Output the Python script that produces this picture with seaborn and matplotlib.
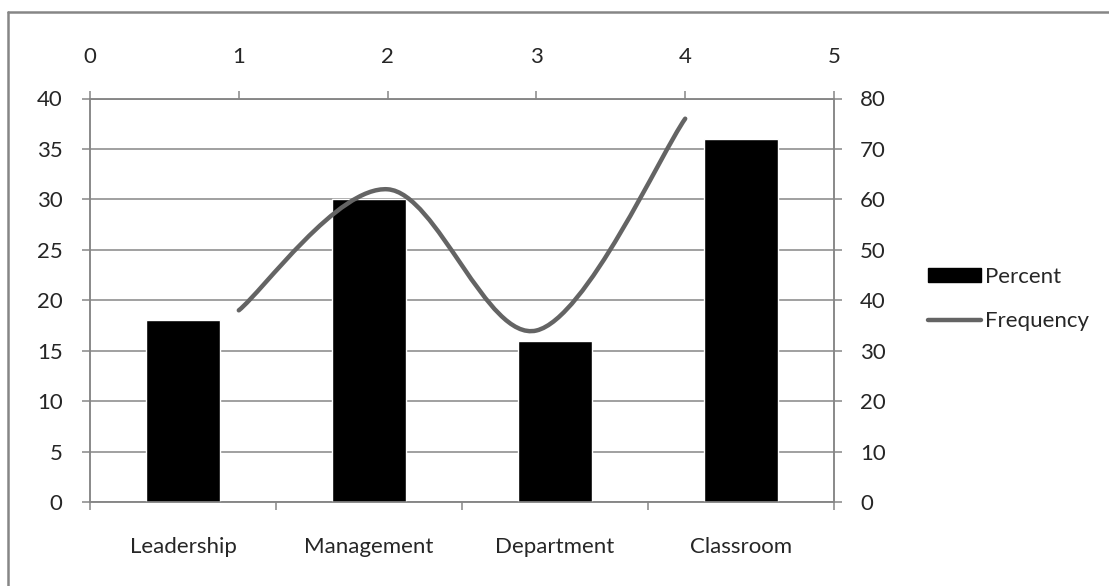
import numpy as np
import pandas as pd
import matplotlib
matplotlib.use("Agg")
import matplotlib.pyplot as plt
from matplotlib.path import Path
from matplotlib.patches import PathPatch, Patch
from matplotlib.lines import Line2D
import seaborn as sns

categories = ["Leadership", "Management", "Department", "Classroom"]
percent = [18, 30, 16, 36]
freq_x = [1, 2, 3, 4]
frequency = [38, 62, 34, 76]

GRAY = "#868686"
LINE_GRAY = "#646464"
FS = 16


def smooth_path(xs, ys):
    # Excel-like smoothed line: cubic bezier with 1/6 tangents
    p = np.column_stack([xs, ys]).astype(float)
    n = len(p)
    verts = [p[0]]
    codes = [Path.MOVETO]
    for i in range(n - 1):
        prev = p[max(i - 1, 0)]
        nxt = p[min(i + 2, n - 1)]
        c1 = p[i] + (p[i + 1] - prev) / 6
        c2 = p[i + 1] - (nxt - p[i]) / 6
        verts += [c1, c2, p[i + 1]]
        codes += [Path.CURVE4] * 3
    return Path(verts, codes)


sns.set_theme(style="white")
plt.rcParams["font.family"] = ["Lato", "DejaVu Sans"]
plt.rcParams["font.size"] = FS

fig = plt.figure(figsize=(11.09, 5.86), dpi=100)
rect = [90 / 1109, 84 / 586, 744 / 1109, 403.5 / 586]
ax = fig.add_axes(rect)

df = pd.DataFrame({"Category": categories, "Percent": percent})
sns.barplot(data=df, x="Category", y="Percent", color="black", width=0.4,
            saturation=1, ax=ax, zorder=3)
ax.set_xlim(-0.5, 3.5)
ax.set_ylim(0, 40)
ax.set_yticks(range(0, 41, 5))
ax.set_xlabel("")
ax.set_ylabel("")
ax.yaxis.grid(True, color=GRAY, lw=1.1, zorder=0)
ax.set_axisbelow(True)
ax.set_xticks(np.arange(-0.5, 4, 1), minor=False)
ax.set_xticklabels([])
ax.set_xticks(range(4), minor=True)
ax.set_xticklabels(categories, minor=True)
ax.tick_params(axis="x", which="major", direction="out", length=5.8, width=1.1,
               color=GRAY, bottom=True)
ax.tick_params(axis="x", which="minor", length=0, pad=25, labelsize=FS, bottom=True)
ax.tick_params(axis="y", direction="out", length=5.8, width=1.1, color=GRAY,
               pad=14, labelsize=FS, left=True)
for s in ax.spines.values():
    s.set_color(GRAY)
    s.set_linewidth(1.1)

# overlay axes for the frequency line: top x axis 0-5, right y axis 0-80
ax2 = fig.add_axes(rect)
ax2.patch.set_visible(False)
ax2.set_xlim(0, 5)
ax2.set_ylim(0, 80)
ax2.set_xticks(range(6))
ax2.set_yticks(range(0, 81, 10))
ax2.xaxis.tick_top()
ax2.yaxis.tick_right()
ax2.tick_params(axis="both", direction="out", length=5.8, width=1.1, color=GRAY,
                labelsize=FS)
ax2.tick_params(axis="x", pad=17)
ax2.tick_params(axis="y", pad=13)
for s in ax2.spines.values():
    s.set_color(GRAY)
    s.set_linewidth(1.1)
ax2.grid(False)

curve = PathPatch(smooth_path(freq_x, frequency), facecolor="none",
                  edgecolor=LINE_GRAY, lw=3.2, capstyle="round", zorder=4)
ax2.add_patch(curve)

handles = [Patch(facecolor="black", edgecolor="black"),
           Line2D([0], [0], color=LINE_GRAY, lw=3.2, solid_capstyle="round")]
fig.legend(handles, ["Percent", "Frequency"], loc="center left",
           bbox_to_anchor=(908 / 1109, 1 - 299 / 586), frameon=False,
           handlelength=2.4, handleheight=0.6, handletextpad=0.15,
           labelspacing=1.1, fontsize=FS)

# outer chart border
fig.add_artist(Line2D([8 / 1109, 1], [1 - 12 / 586, 1 - 12 / 586], color=GRAY, lw=1.8,
                      transform=fig.transFigure))
fig.add_artist(Line2D([8 / 1109, 8 / 1109], [0, 1 - 12 / 586], color=GRAY, lw=1.8,
                      transform=fig.transFigure))

fig.savefig("out.png", dpi=100)
